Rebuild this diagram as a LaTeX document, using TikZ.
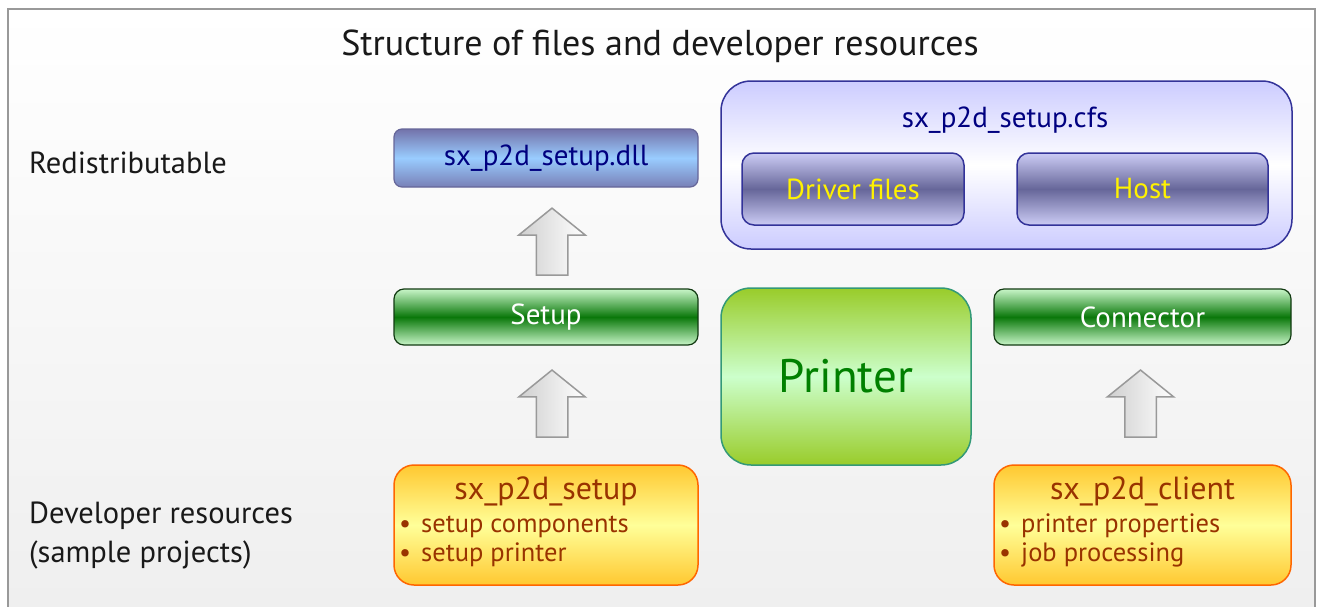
\documentclass[tikz,border=0pt]{standalone}
\usepackage{fontspec}
\setmainfont{PT Sans}
\usetikzlibrary{shapes.arrows,calc}
\definecolor{framegray}{HTML}{999999}
\definecolor{bgbot}{HTML}{EFEFEF}
\definecolor{navytext}{HTML}{000080}
\definecolor{dllborder}{HTML}{666699}
\definecolor{dlltop}{HTML}{7373AA}
\definecolor{dllmid}{HTML}{99CCFF}
\definecolor{greenborder}{HTML}{123A12}
\definecolor{greenlight}{HTML}{C8F5C8}
\definecolor{greendark}{HTML}{0A780A}
\definecolor{orborder}{HTML}{FF6600}
\definecolor{orgold}{HTML}{FFC830}
\definecolor{oryellow}{HTML}{FFFF99}
\definecolor{ortext}{HTML}{993300}
\definecolor{prborder}{HTML}{339977}
\definecolor{prlime}{HTML}{99CC2A}
\definecolor{prmint}{HTML}{CCFFCC}
\definecolor{prtext}{HTML}{008000}
\definecolor{cfsborder}{HTML}{333399}
\definecolor{cfsfill}{HTML}{CCCCFF}
\definecolor{drvlight}{HTML}{CCCCF5}
\definecolor{drvdark}{HTML}{666699}
\definecolor{arrowgray}{HTML}{999999}
\tikzset{
  lbl/.style={inner sep=0pt, font=\fontsize{30.5}{34}\selectfont, text=black!90},
  boxfont/.style={font=\fontsize{29}{33}\selectfont},
  dllbox/.style={draw=dllborder, line width=1.2pt, rounded corners=8pt,
    minimum width=304pt, minimum height=58pt,
    top color=dlltop, bottom color=dlltop!85!dllmid, middle color=dllmid,
    text=navytext, boxfont},
  greenbox/.style={draw=greenborder, line width=1.2pt, rounded corners=10pt,
    minimum height=56pt,
    top color=greenlight, bottom color=greenlight, middle color=greendark,
    text=white, boxfont},
  orbox/.style={draw=orborder, line width=1.5pt, rounded corners=20pt,
    minimum height=120pt,
    top color=orgold, bottom color=orgold, middle color=oryellow},
  ortitle/.style={inner sep=0pt, text=ortext, font=\fontsize{32}{36}\selectfont},
  oritem/.style={inner sep=0pt, text=ortext, font=\fontsize{26.5}{30}\selectfont},
  printerbox/.style={draw=prborder, line width=1.5pt, rounded corners=30pt,
    minimum width=250pt, minimum height=177pt,
    top color=prlime, bottom color=prlime, middle color=prmint,
    text=prtext, font=\fontsize{47}{52}\selectfont},
  cfsbox/.style={draw=cfsborder, line width=1.5pt, rounded corners=30pt,
    minimum width=571pt, minimum height=168pt,
    top color=cfsfill, bottom color=cfsfill, middle color=white},
  purplebox/.style={draw=cfsborder, line width=1.5pt, rounded corners=12pt,
    minimum height=72pt,
    top color=drvlight, bottom color=drvlight, middle color=drvdark,
    text=yellow, boxfont},
  blockarrow/.style={single arrow, rotate=90, draw=arrowgray, line width=1.5pt,
    minimum height=67pt, inner xsep=0pt, inner ysep=15pt,
    single arrow head extend=17.5pt, single arrow tip angle=102,
    left color=gray!38, right color=white}
}
\begin{document}
\begin{tikzpicture}[x=1pt,y=-1pt]
\useasboundingbox (0,0) rectangle (1317,606);
\shade[top color=white, bottom color=bgbot] (8,9) rectangle (1315,606);
\draw[framegray, line width=2pt] (8,607) -- (8,9) -- (1315,9) -- (1315,607);

\node[lbl, anchor=base, font=\fontsize{36}{40}\selectfont] (title) at (660,55) {Structure of files and developer resources};
\node[lbl, anchor=base west] (redist) at (29,173) {Redistributable};
\node[lbl, anchor=base west] (devres) at (29,523) {Developer resources};
\node[lbl, anchor=base west] (sample) at (29,562) {(sample projects)};

% left column
\node[dllbox] (dll) at (546,158) {sx\_p2d\_setup.dll};
\node[greenbox, minimum width=304pt] (setup) at (546,317) {Setup};
\node[orbox, minimum width=304pt] (psetup) at (546,525) {};
\node[ortitle, anchor=base] (psetupt) at (546,499) {sx\_p2d\_setup};
\node[oritem, anchor=base west] (ps1) at (399,532) {•\hspace{10pt}setup components};
\node[oritem, anchor=base west] (ps2) at (399,561) {•\hspace{10pt}setup printer};

% middle
\node[printerbox] (printer) at (846,376.5) {Printer};

% cfs
\node[cfsbox] (cfs) at (1006.5,165) {};
\node[inner sep=0pt, anchor=base, text=navytext, boxfont] (cfst) at (1005,127) {sx\_p2d\_setup.cfs};
\node[purplebox, minimum width=222pt] (drv) at (853,189) {Driver files};
\node[purplebox, minimum width=251pt] (host) at (1142.5,189) {Host};

% right column
\node[greenbox, minimum width=297pt] (conn) at (1142.5,317) {Connector};
\node[orbox, minimum width=297pt] (pclient) at (1142.5,525) {};
\node[ortitle, anchor=base] (pclientt) at (1142.5,499) {sx\_p2d\_client};
\node[oritem, anchor=base west] (pc1) at (999,532) {•\hspace{10pt}printer properties};
\node[oritem, anchor=base west] (pc2) at (999,561) {•\hspace{10pt}job processing};

% block arrows
\node[blockarrow] (a1) at ($($(dll.south)!0.5!(setup.north)$)+(6,10)$) {};
\node[blockarrow] (a2) at ($($(setup.south)!0.5!(psetup.north)$)+(6,5)$) {};
\node[blockarrow] (a3) at ($($(conn.south)!0.5!(pclient.north)$)+(-2,5)$) {};
\end{tikzpicture}
\end{document}
